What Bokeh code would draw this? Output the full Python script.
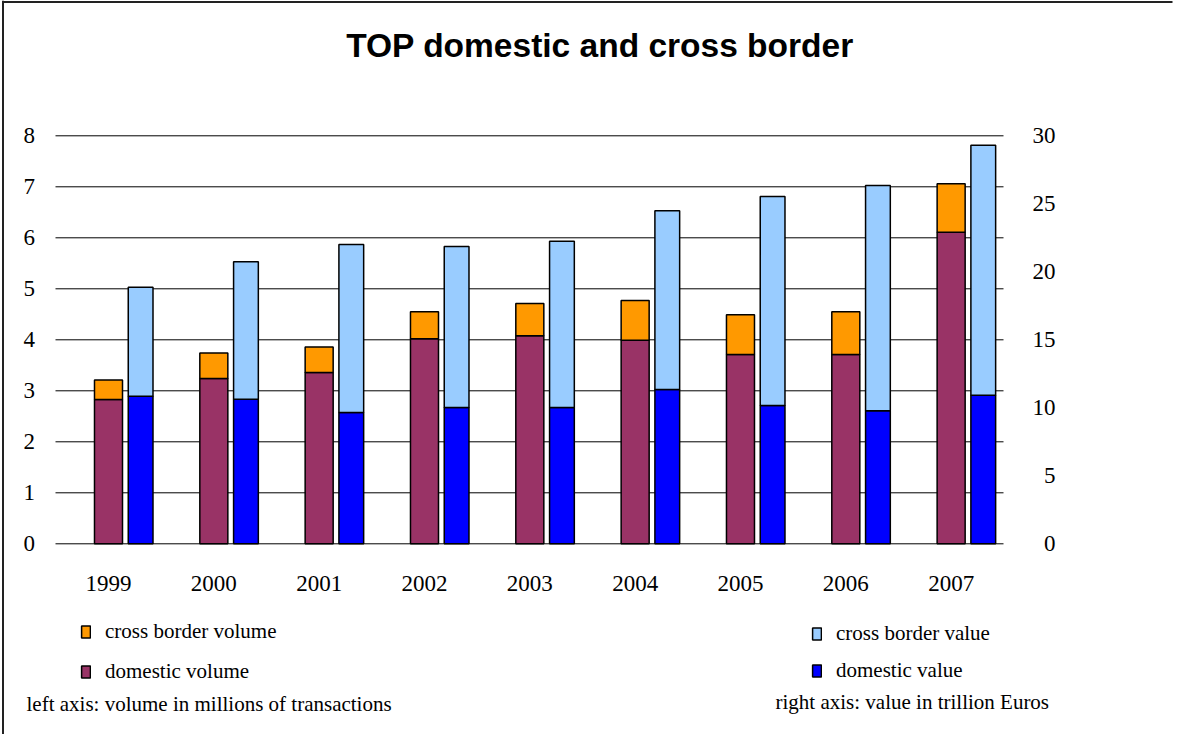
from bokeh.plotting import figure
from bokeh.models import (Range1d, Legend, LegendItem, Label, ColumnDataSource)
from bokeh.core.properties import value
from bokeh.transform import dodge
from bokeh.embed import file_html
from bokeh.resources import INLINE

# ---- data ----
years = ["1999", "2000", "2001", "2002", "2003", "2004", "2005", "2006", "2007"]
domestic_volume = [2.83, 3.24, 3.36, 4.02, 4.08, 3.99, 3.71, 3.71, 6.11]
cross_border_volume = [0.38, 0.50, 0.50, 0.53, 0.63, 0.78, 0.78, 0.84, 0.95]
domestic_value = [10.85, 10.63, 9.65, 10.02, 10.02, 11.35, 10.17, 9.78, 10.93]
cross_border_value = [8.02, 10.11, 12.35, 11.84, 12.23, 13.13, 15.37, 16.57, 18.38]
left_ticks = [0, 1, 2, 3, 4, 5, 6, 7, 8]
right_ticks = [0, 5, 10, 15, 20, 25, 30]

title_text = "TOP domestic and cross border"
left_note = "left axis: volume in millions of transactions"
right_note = "right axis: value in trillion Euros"

C_DOM_VOL = "#993366"
C_CB_VOL = "#FF9900"
C_DOM_VAL = "#0000FF"
C_CB_VAL = "#99CCFF"
SERIF = "Liberation Serif"

# ---- layout (pixels of the page) ----
W, H = 1184, 734
PX_X0, PX_DX = 108.0, 105.33      # centre of first category, spacing between categories
PX_Y0, PX_DY = 543.3, 51.0        # pixel row of volume 0, pixels per volume unit
VAL_PER_VOL = 30 / 8              # right axis scale relative to left axis


def px2x(px):
    return (px - PX_X0) / PX_DX


def px2y(py):
    return (PX_Y0 - py) / PX_DY


pos = list(range(len(years)))
src = ColumnDataSource(dict(pos=pos, year=years, dom_vol=domestic_volume, cb_vol=cross_border_volume,
                            dom_val=domestic_value, cb_val=cross_border_value))

p = figure(x_range=Range1d(px2x(0), px2x(W)), y_range=Range1d(px2y(H), px2y(0)),
           width=W, height=H, output_backend="svg", toolbar_location=None,
           x_axis_type=None, y_axis_type=None, min_border=0)
p.extra_y_ranges = {"val": Range1d(px2y(H) * VAL_PER_VOL, px2y(0) * VAL_PER_VOL)}
p.outline_line_color = None
p.background_fill_color = "white"
p.border_fill_color = "white"
p.grid.visible = False

# chart border (left and top edges of the chart box)
p.segment(x0=[px2x(2.5), px2x(1.5)], y0=[px2y(0), px2y(1.5)],
          x1=[px2x(2.5), px2x(1172)], y1=[px2y(H), px2y(1.5)], line_color="#222222", line_width=2)

# horizontal grid lines at the left-axis ticks
p.segment(x0=px2x(55), x1=px2x(1003), y0=left_ticks, y1=left_ticks, line_color="#000000", line_width=1)

# bars
vol_r = p.vbar_stack(["dom_vol", "cb_vol"], x="pos", width=0.266, source=src,
                     fill_color=[C_DOM_VOL, C_CB_VOL], line_color="black", line_width=1.5)
val_r = p.vbar_stack(["dom_val", "cb_val"], x=dodge("pos", 0.305), width=0.235,
                     source=src, fill_color=[C_DOM_VAL, C_CB_VAL], line_color="black",
                     line_width=1.5, y_range_name="val")

# left axis tick labels
p.text(x=px2x(34.5), y=left_ticks, text=[str(t) for t in left_ticks], text_align="right",
       text_baseline="middle", text_font=value(SERIF), text_font_size="23px", text_color="#000000")
# right axis tick labels
p.text(x=px2x(1055), y=right_ticks, text=[str(t) for t in right_ticks], y_range_name="val",
       text_align="right", text_baseline="middle", text_font=value(SERIF), text_font_size="23px",
       text_color="#000000")
# category labels
p.text(x="pos", y=px2y(583), text="year", source=src, text_align="center",
       text_baseline="middle", text_font=value(SERIF), text_font_size="23px", text_color="#000000")

# title
p.add_layout(Label(x=px2x(599.5), y=px2y(44.5), text=title_text, text_align="center",
                   text_baseline="middle", text_font="Liberation Sans", text_font_style="bold",
                   text_font_size="33.5px", text_color="#000000"))

# notes
p.add_layout(Label(x=px2x(26), y=px2y(703.5), text=left_note, text_align="left",
                   text_baseline="middle", text_font=SERIF, text_font_size="21px", text_color="#000000"))
p.add_layout(Label(x=px2x(775), y=px2y(701.2), text=right_note, text_align="left",
                   text_baseline="middle", text_font=SERIF, text_font_size="21px", text_color="#000000"))


# legends
def make_legend(items, loc, spacing):
    return Legend(items=items, location=loc, orientation="vertical", padding=0, margin=0,
                  spacing=spacing, glyph_width=11, glyph_height=15, label_height=15,
                  label_standoff=14, border_line_color=None, background_fill_alpha=0,
                  label_text_font=SERIF, label_text_font_size="21px", label_text_color="#000000")


leg1 = make_legend([LegendItem(label="cross border volume", renderers=[vol_r[1]]),
                    LegendItem(label="domestic volume", renderers=[vol_r[0]])], (80, H - 684), 15)
leg2 = make_legend([LegendItem(label="cross border value", renderers=[val_r[1]]),
                    LegendItem(label="domestic value", renderers=[val_r[0]])], (811, H - 683), 12)
p.add_layout(leg1)
p.add_layout(leg2)

open("out.html", "w").write(file_html(p, INLINE))
